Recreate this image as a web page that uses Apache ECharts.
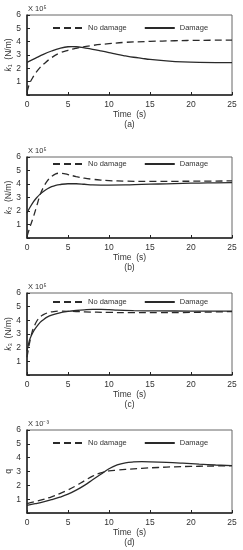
<!DOCTYPE html>
<html><head><meta charset="utf-8">
<script src="https://cdn.jsdelivr.net/npm/echarts@6/dist/echarts.min.js"></script>
<style>html,body{margin:0;padding:0;background:#fff}#c{width:243px;height:550px}</style>
</head><body><div id="c"></div>
<script>
// Panel (a) k1, ×10^5 N/m
const xNoA = [0,0.3,0.6,1,1.5,2,3,4,5,6,7,8,10,12,15,18,21,25];
const noA  = [0.2,0.85,1.2,1.6,2.0,2.3,2.8,3.15,3.35,3.5,3.62,3.72,3.85,3.95,4.02,4.07,4.1,4.12];
const xDmA = [0,1,2,3,4,5,5.5,6,7,8,9,10,11,12,13,14,15,17,19,21,23,25];
const dmA  = [2.45,2.75,3.05,3.3,3.5,3.62,3.63,3.62,3.53,3.43,3.31,3.18,3.04,2.93,2.83,2.75,2.67,2.56,2.48,2.44,2.43,2.43];
// Panel (b) k2
const xNoB = [0,0.3,0.8,1.2,1.6,2,2.5,3,3.5,4,4.5,5,6,7,8,9,10,12,15,18,21,25];
const noB  = [0.1,0.7,1.6,2.4,3.2,3.75,4.25,4.55,4.75,4.8,4.77,4.7,4.55,4.43,4.35,4.29,4.25,4.21,4.19,4.2,4.21,4.23];
const xDmB = [0,0.3,0.8,1.2,1.6,2,2.5,3,3.5,4,5,6,7,8,9,10,12,14,16,18,20,22,25];
const dmB  = [1.85,2.2,2.7,3.0,3.25,3.45,3.65,3.8,3.9,3.96,4.02,4.02,3.98,3.93,3.92,3.92,3.93,3.97,4.0,4.03,4.06,4.08,4.1];
// Panel (c) k3
const xNoC = [0,0.2,0.4,0.6,0.8,1.2,1.6,2,2.5,3,4,5,7,10,13,16,19,22,25];
const noC  = [1.3,2.0,2.6,3.1,3.45,3.95,4.25,4.42,4.55,4.62,4.67,4.66,4.62,4.58,4.56,4.56,4.57,4.6,4.64];
const xDmC = [0,0.2,0.4,0.8,1.2,1.6,2,2.5,3,4,5,6,7,8,9,10,11,13,16,20,25];
const dmC  = [1.75,2.3,2.7,3.2,3.55,3.85,4.05,4.25,4.38,4.55,4.65,4.72,4.77,4.8,4.8,4.78,4.74,4.71,4.69,4.68,4.68];
// Panel (d) q, ×10^-3
const xNoD = [0,1,2,3,4,5,6,7,8,9,10,11,12,14,16,18,20,22,25];
const noD  = [0.68,0.82,0.98,1.17,1.4,1.67,1.98,2.33,2.66,2.9,3.04,3.1,3.15,3.23,3.29,3.34,3.37,3.39,3.42];
const xDmD = [0,1,2,3,4,5,6,7,8,9,10,11,12,13,14,15,17,19,21,23,25];
const dmD  = [0.55,0.67,0.8,0.96,1.14,1.36,1.65,2.0,2.4,2.8,3.2,3.48,3.63,3.69,3.71,3.7,3.66,3.6,3.53,3.47,3.42];

const xTicks = [0,5,10,15,20,25];
const yTicks = [1,2,3,4,5,6];
const panelLetters = ['(a)','(b)','(c)','(d)'];
const yNames = ['{i|k}\u2081  (N/m)','{i|k}\u2082  (N/m)','{i|k}\u2083  (N/m)','q'];
const scales = ['X 10\u2075','X 10\u2075','X 10\u2075','X 10\u207B\u00B3'];
const seriesNames = ['No damage','Damage'];

const panels = [
  {xn:xNoA,yn:noA,xd:xDmA,yd:dmA},
  {xn:xNoB,yn:noB,xd:xDmB,yd:dmB},
  {xn:xNoC,yn:noC,xd:xDmC,yd:dmC},
  {xn:xNoD,yn:noD,xd:xDmD,yd:dmD}
];
const tops = [15,157,293,430];
const heights = [80,81,82,83];
const legendTops = [24,160,298,439];

const FONT = 'Liberation Sans';
const TXT = '#333';
const FS = 8.5;
const pair = (xs,ys) => xs.map((x,i)=>[x,ys[i]]);

const grid=[],xAxis=[],yAxis=[],series=[],legend=[],graphic=[];
panels.forEach((p,i)=>{
  grid.push({left:27,width:205,top:tops[i],height:heights[i],show:true,borderColor:'#666',borderWidth:1,
    containLabel:false,outerBoundsMode:'none'});
  xAxis.push({type:'value',gridIndex:i,min:xTicks[0],max:xTicks[xTicks.length-1],interval:5,
    name:'Time  (s)\n'+panelLetters[i],nameLocation:'middle',nameGap:15,nameMoveOverlap:false,
    nameTextStyle:{fontFamily:FONT,fontSize:FS,color:TXT,lineHeight:10},
    axisLine:{lineStyle:{color:'#222',width:1.5}},
    axisTick:{inside:true,length:3,lineStyle:{color:'#222'}},
    axisLabel:{fontFamily:FONT,fontSize:FS,color:TXT,margin:5},
    splitLine:{show:false}});
  yAxis.push({type:'value',gridIndex:i,min:0,max:yTicks[yTicks.length-1],interval:1,
    name:yNames[i],nameLocation:'middle',nameRotate:90,nameGap:14,nameMoveOverlap:false,
    nameTextStyle:{fontFamily:FONT,fontSize:FS,color:TXT,rich:{i:{fontStyle:'italic',fontFamily:FONT,fontSize:FS,color:TXT}}},
    axisLine:{show:true,lineStyle:{color:'#222',width:1.5}},
    axisTick:{show:true,inside:true,length:3,lineStyle:{color:'#222'}},
    axisLabel:{fontFamily:FONT,fontSize:FS,color:TXT,margin:6,formatter:v=>v===0?'':String(v)},
    splitLine:{show:false}});
  series.push({name:seriesNames[0],type:'line',xAxisIndex:i,yAxisIndex:i,smooth:0.4,symbol:'none',
    data:pair(p.xn,p.yn),lineStyle:{color:'#2a2a2a',width:1.3,type:[7,4]},itemStyle:{color:'#2a2a2a'}});
  series.push({name:seriesNames[1],type:'line',xAxisIndex:i,yAxisIndex:i,smooth:0.4,symbol:'none',
    data:pair(p.xd,p.yd),lineStyle:{color:'#2a2a2a',width:1.3,type:'solid'},itemStyle:{color:'#2a2a2a'}});
  legend.push({data:seriesNames,left:52,top:legendTops[i],padding:0,itemWidth:30,itemHeight:8,itemGap:17,
    itemStyle:{opacity:0},
    textStyle:{fontFamily:FONT,fontSize:7.5,color:TXT},selectedMode:false});
  graphic.push({type:'text',left:28,top:tops[i]-10,style:{text:scales[i],font:'7.5px '+FONT,fill:TXT}});
});

const chart = echarts.init(document.getElementById('c'),null,{renderer:'canvas'});
chart.setOption({animation:false,backgroundColor:'#fff',grid,xAxis,yAxis,series,legend,graphic});
</script></body></html>
